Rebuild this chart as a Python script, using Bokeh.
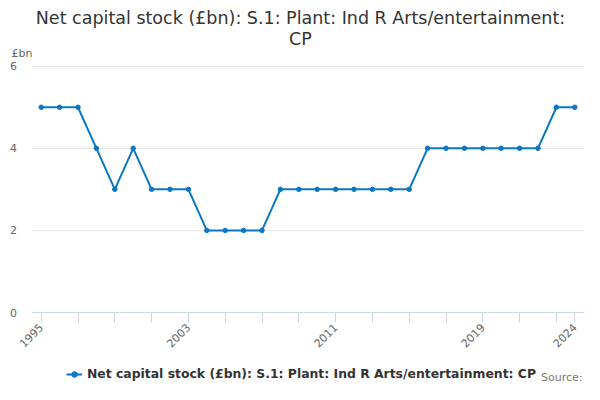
import math
from bokeh.plotting import figure
from bokeh.models import FixedTicker, Label, Legend, LegendItem, ColumnDataSource
from bokeh.embed import file_html
from bokeh.resources import INLINE

years = [1995, 1996, 1997, 1998, 1999, 2000, 2001, 2002, 2003, 2004,
         2005, 2006, 2007, 2008, 2009, 2010, 2011, 2012, 2013, 2014,
         2015, 2016, 2017, 2018, 2019, 2020, 2021, 2022, 2023, 2024]
values = [5, 5, 5, 4, 3, 4, 3, 3, 3, 2,
          2, 2, 2, 3, 3, 3, 3, 3, 3, 3,
          3, 4, 4, 4, 4, 4, 4, 4, 5, 5]
x_ticks = [1995, 1997, 1999, 2001, 2003, 2005, 2007, 2009, 2011, 2013,
           2015, 2017, 2019, 2021, 2023, 2024]
x_labels = [1995, 2003, 2011, 2019, 2024]
y_ticks = [0, 2, 4, 6]

title_1 = "Net capital stock (£bn): S.1: Plant: Ind R Arts/entertainment:"
title_2 = "CP"
series_name = "Net capital stock (£bn): S.1: Plant: Ind R Arts/entertainment: CP"
unit = "£bn"
source_txt = "Source:"

COLOR = "#0b77c2"
FONT = "DejaVu Sans"
W, H = 584, 384

# plotting area of the reference: x 1994.5..2024.5, y 0..6
X_LO, X_HI = 1994.5, 2024.5
PX_PER_YEAR = 18.4
PX_PER_UNIT = 41.05
x_start = 1995 - 40.7 / PX_PER_YEAR
x_end = x_start + W / PX_PER_YEAR
y_end = 6 + 65.7 / PX_PER_UNIT
y_start = -(H - 312) / PX_PER_UNIT

src = ColumnDataSource(data=dict(x=years, y=values))

p = figure(width=W, height=H, output_backend="svg", toolbar_location=None,
           x_range=(x_start, x_end), y_range=(y_start, y_end), min_border=0)
p.title.visible = False
p.outline_line_color = None
p.background_fill_color = "white"
p.border_fill_color = "white"

# grid
p.xgrid.grid_line_color = None
p.ygrid.grid_line_color = "#e6e6e6"
p.ygrid.ticker = FixedTicker(ticks=y_ticks)
p.ygrid.cross_bounds = (X_LO, X_HI)

line = p.line("x", "y", source=src, line_color=COLOR, line_width=2)
dots = p.scatter("x", "y", source=src, size=4.5, fill_color=COLOR, line_color=COLOR)

xa = p.xaxis[0]
xa.fixed_location = 0
xa.bounds = (X_LO, X_HI)
xa.ticker = FixedTicker(ticks=x_ticks)
xa.major_label_overrides = {t: ("" if t not in x_labels else str(t)) for t in x_ticks}
xa.major_label_orientation = math.pi / 4
xa.major_label_text_font = FONT
xa.major_label_text_font_size = "11px"
xa.major_label_text_color = "#666666"
xa.major_label_standoff = 3
xa.axis_line_color = "#ccd6eb"
xa.major_tick_line_color = "#ccd6eb"
xa.major_tick_out = 10
xa.major_tick_in = 0
xa.minor_tick_line_color = None

ya = p.yaxis[0]
ya.fixed_location = X_LO
ya.bounds = (0, 6)
ya.ticker = FixedTicker(ticks=y_ticks)
ya.axis_line_color = None
ya.major_tick_line_color = None
ya.minor_tick_line_color = None
ya.major_label_text_font = FONT
ya.major_label_text_font_size = "11px"
ya.major_label_text_color = "#666666"
ya.major_label_standoff = 9

def add_text(x, y_from_top, txt, size, color, align="left", style="normal"):
    p.add_layout(Label(x=x, y=H - y_from_top, x_units="screen", y_units="screen",
                       text=txt, text_align=align, text_baseline="alphabetic",
                       text_font=FONT, text_font_size=size, text_font_style=style,
                       text_color=color))

add_text(300, 17.5, title_1, "17.5px", "#333333", align="center")
add_text(300, 38.5, title_2, "17.5px", "#333333", align="center")
add_text(11, 53, unit, "11px", "#666666")
add_text(582, 377, source_txt, "11px", "#777777", align="right")

legend = Legend(items=[LegendItem(label=series_name, renderers=[line, dots])],
                location=(66, H - 381), orientation="horizontal",
                margin=0, padding=0, border_line_color=None,
                background_fill_alpha=0, glyph_width=16, glyph_height=14,
                label_height=14, label_standoff=5,
                label_text_font=FONT, label_text_font_size="12.4px",
                label_text_font_style="bold", label_text_color="#333333")
p.add_layout(legend)

open("out.html", "w").write(file_html(p, INLINE))
